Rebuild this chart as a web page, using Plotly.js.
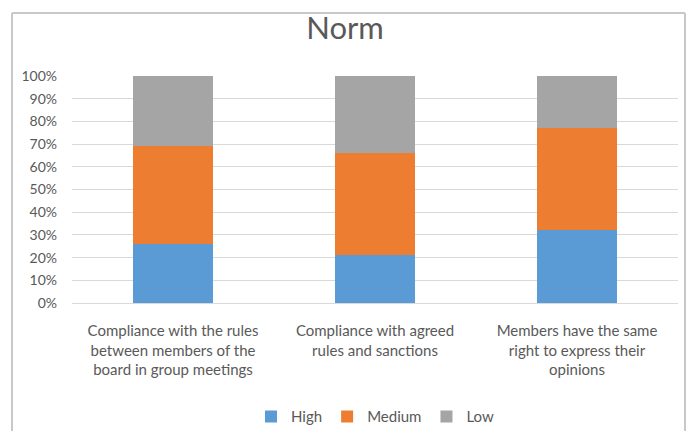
<!DOCTYPE html>
<html>
<head>
<meta charset="utf-8">
<script src="https://cdn.plot.ly/plotly-3.0.1.min.js"></script>
<style>html,body{margin:0;padding:0;background:#fff;}#chart{width:690px;height:431px;}</style>
</head>
<body>
<div id="chart"></div>
<script>
const categories = [
  "Compliance with the rules<br>between members of the<br>board in group meetings",
  "Compliance with agreed<br>rules and sanctions",
  "Members have the same<br>right to express their<br>opinions"
];
const high = [26, 21, 32];
const medium = [43, 45, 45];
const low = [31, 34, 23];
const seriesNames = ["High", "Medium", "Low"];
const colors = ["#5b9bd5", "#ed7d31", "#a5a5a5"];
const tickVals = [0, 10, 20, 30, 40, 50, 60, 70, 80, 90, 100];
const tickText = tickVals.map(v => v + "%");

const font = "Lato, 'Open Sans', sans-serif";
const traces = [high, medium, low].map((vals, i) => ({
  type: "bar",
  name: seriesNames[i],
  x: categories,
  y: vals,
  marker: {color: colors[i]},
  hoverinfo: "skip"
}));

const layout = {
  width: 690, height: 431,
  margin: {l: 72, r: 12, t: 76, b: 128, autoexpand: false},
  paper_bgcolor: "#ffffff",
  plot_bgcolor: "#ffffff",
  barmode: "stack",
  bargap: 0.6,
  title: {text: "Norm", x: 0.5, xanchor: "center", y: 0.935, yanchor: "middle",
          font: {family: font, size: 31, color: "#595959"}},
  xaxis: {
    tickfont: {family: font, size: 15, color: "#595959"},
    showgrid: false, zeroline: false,
    showline: true, linecolor: "#d9d9d9", linewidth: 1,
    ticks: "", fixedrange: true, automargin: false,
    ticklabelstandoff: 14
  },
  yaxis: {
    range: [0, 100],
    tickvals: tickVals, ticktext: tickText,
    tickfont: {family: font, size: 14, color: "#595959"},
    showgrid: true, gridcolor: "#d9d9d9", gridwidth: 1,
    zeroline: false, showline: false, ticks: "",
    ticklabelstandoff: 14, automargin: false
  },
  legend: {
    orientation: "h", x: 0.5, xanchor: "center",
    yref: "container", y: 0.033, yanchor: "middle",
    font: {family: font, size: 15, color: "#595959"},
    itemwidth: 30, traceorder: "normal"
  },
  showlegend: true,
  shapes: [
    {type: "line", xref: "paper", yref: "paper", x0: -0.099, x1: 1.0116, y0: 1.2775, y1: 1.2775, line: {color: "#c8c8c8", width: 2}},
    {type: "line", xref: "paper", yref: "paper", x0: -0.099, x1: -0.099, y0: 1.2775, y1: -0.6, line: {color: "#c8c8c8", width: 2}},
    {type: "line", xref: "paper", yref: "paper", x0: 1.0116, x1: 1.0116, y0: 1.2775, y1: -0.6, line: {color: "#c8c8c8", width: 2}}
  ]
};

Plotly.newPlot("chart", traces, layout, {staticPlot: true, displayModeBar: false});
</script>
</body>
</html>
